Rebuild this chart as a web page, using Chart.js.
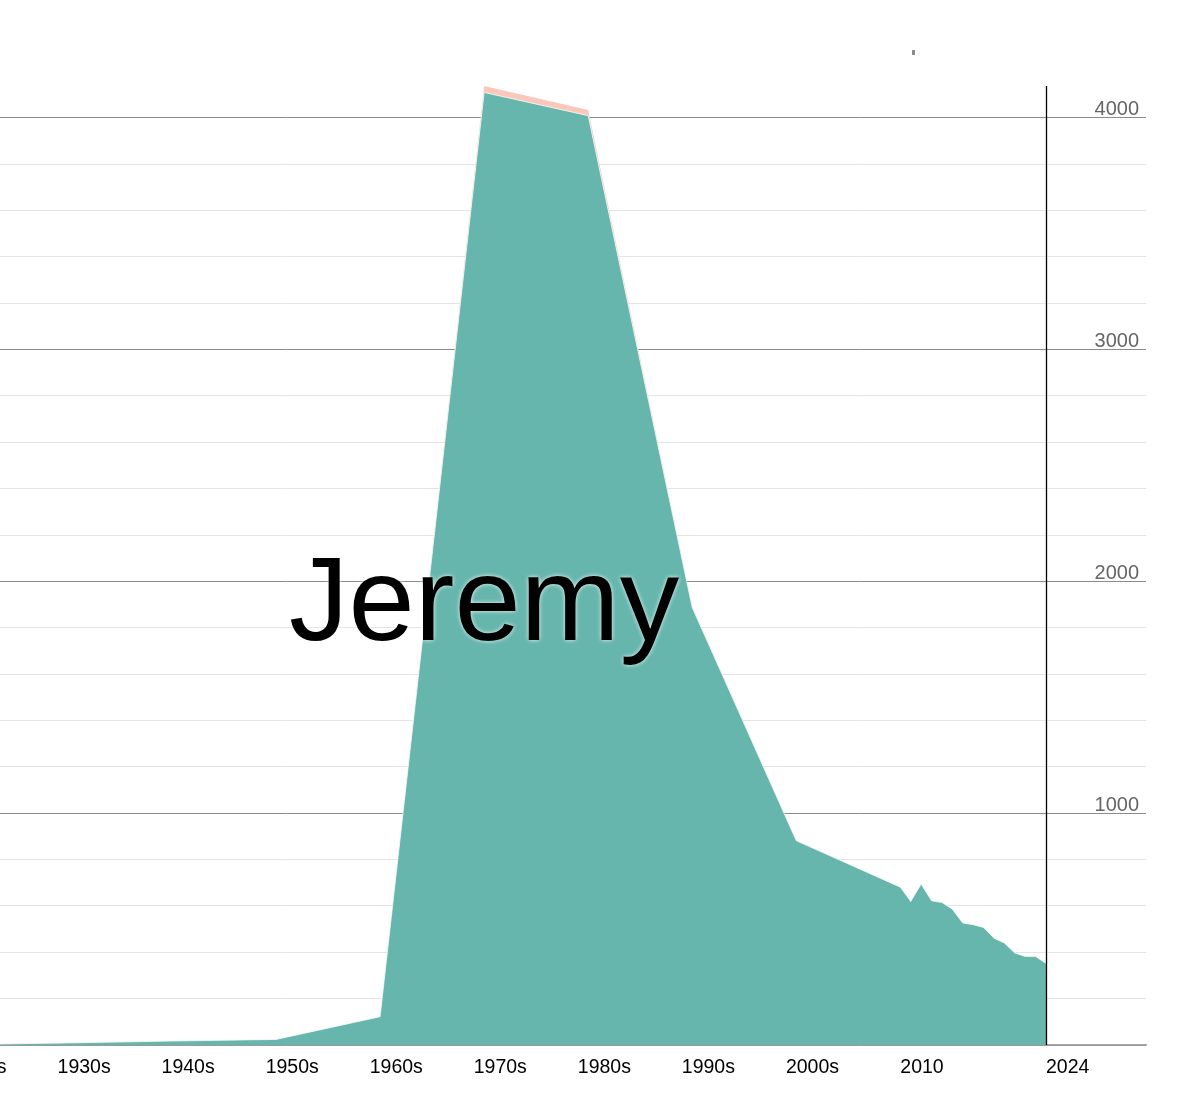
<!DOCTYPE html>
<html><head><meta charset="utf-8">
<script src="https://cdn.jsdelivr.net/npm/chart.js@4.4.1/dist/chart.umd.min.js"></script>
<style>html,body{margin:0;padding:0;background:#fff;overflow:hidden}#wrap{width:1184px;height:1098px;position:relative}</style>
</head><body><div id="wrap"><canvas id="c"></canvas></div>
<script>
const nameLabel = 'Jeremy';
const years = [1920,1930,1940,1950,1960,1970,1980,1990,2000,2010,2011,2012,2013,2014,2015,2016,2017,2018,2019,2020,2021,2022,2023,2024];
const boys  = [2,9,17,24,122,4109,4009,1887,881,681,619,694,622,615,586,526,519,507,461,440,397,382,382,352];
const girls = [0,0,0,0,0,28,25,6,2,0,0,0,0,0,0,0,0,0,0,0,0,0,0,0];
const tickYears  = [1919,1929,1939,1949,1959,1969,1979,1989,1999,2010,2024];
const tickLabels = ['1920s','1930s','1940s','1950s','1960s','1970s','1980s','1990s','2000s','2010','2024'];

const totals = boys.map((b,i)=>b+girls[i]);
const yMax = Math.max(...totals);
const peakYear = years[totals.indexOf(yMax)];
const lastYear = years[years.length-1];

const FONT = "'Liberation Sans', Arial, Helvetica, sans-serif";

const overlay = {
  id:'overlay',
  afterDatasetsDraw(chart){
    const {ctx, chartArea, scales:{x,y}} = chart;
    ctx.save();
    const lx = Math.round(x.getPixelForValue(lastYear))+0.5;
    ctx.strokeStyle = '#000'; ctx.lineWidth = 1.3;
    ctx.beginPath(); ctx.moveTo(lx, chartArea.top); ctx.lineTo(lx, chartArea.bottom); ctx.stroke();
    ctx.font = "119px " + FONT;
    ctx.textAlign = 'center'; ctx.textBaseline = 'alphabetic';
    ctx.shadowColor = 'rgba(255,255,255,0.9)'; ctx.shadowBlur = 4;
    ctx.fillStyle = '#000';
    ctx.fillText(nameLabel, x.getPixelForValue(peakYear), chartArea.bottom - 405);
    ctx.restore();
    ctx.save();
    ctx.fillStyle = '#8c8c8c';
    ctx.fillRect(912, 50, 3, 5);
    ctx.restore();
  }
};

new Chart(document.getElementById('c'), {
  type:'line',
  data:{
    datasets:[
      {label:'boys', data: years.map((yr,i)=>({x:yr,y:boys[i]})), fill:'origin',
       backgroundColor:'#66b6ad', borderColor:'rgba(255,255,255,0.7)', borderWidth:1, pointRadius:0, tension:0},
      {label:'girls', data: years.map((yr,i)=>({x:yr,y:girls[i]})), fill:'-1',
       backgroundColor:'#f9c8bb', borderColor:'rgba(0,0,0,0)', borderWidth:0, pointRadius:0, tension:0}
    ]
  },
  options:{
    responsive:true, maintainAspectRatio:false, animation:false, devicePixelRatio:1,
    layout:{padding:{top:86,left:0,right:38,bottom:7.6}},
    plugins:{legend:{display:false}, tooltip:{enabled:false}},
    scales:{
      x:{type:'linear', min:1923.47, max:2033.61,
         grid:{display:false, drawTicks:false},
         border:{display:true, color:'#a8a8a8', width:1.5},
         afterBuildTicks(s){ s.ticks = tickYears.map(v=>({value:v})); },
         afterFit(s){ s.paddingLeft = 0; s.paddingRight = 0; },
         ticks:{autoSkip:false, maxRotation:0, align:'start', padding:11, color:'#000',
                font:{family:FONT, size:19.5},
                callback(v){ const i = tickYears.indexOf(v); return i>=0 ? tickLabels[i] : ''; }}
      },
      y:{type:'linear', position:'right', min:0, max:yMax, stacked:true,
         border:{display:false},
         afterFit(s){ s.width = 0; },
         grid:{drawTicks:false, lineWidth:1,
               color:(c)=> (c.tick && c.tick.value % 1000 === 0) ? '#8a8a8a' : '#e4e4e4'},
         ticks:{stepSize:200, includeBounds:false, mirror:true, padding:-7, labelOffset:-8, color:'#666',
                font:{family:FONT, size:20},
                callback(v){ return (v % 1000 === 0 && v>0) ? String(v) : ''; }}
      }
    }
  },
  plugins:[overlay]
});
</script></body></html>
